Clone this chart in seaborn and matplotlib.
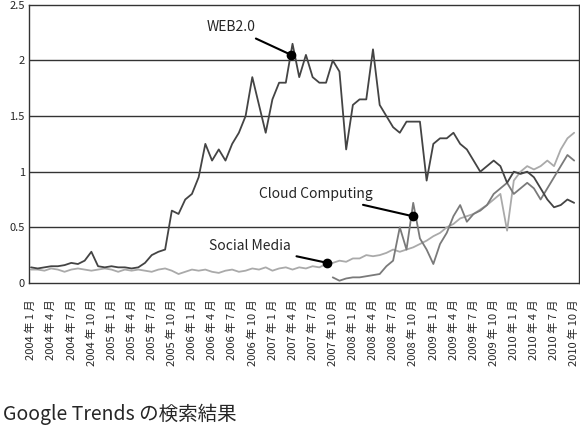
import numpy as np
import pandas as pd
import matplotlib
matplotlib.use('Agg')
import matplotlib.pyplot as plt
import seaborn as sns

sns.set_style('white')
plt.rcParams['font.family'] = ['Noto Sans CJK JP', 'DejaVu Sans']

# 月次の値 (2004年1月 = 0)
months = list(range(82))
web20 = [0.14, 0.13, 0.14, 0.15, 0.15, 0.16, 0.18, 0.17, 0.20, 0.28,
         0.15, 0.14, 0.15, 0.14, 0.14, 0.13, 0.14, 0.18, 0.25, 0.28,
         0.30, 0.65, 0.62, 0.75, 0.80, 0.95, 1.25, 1.10, 1.20, 1.10,
         1.25, 1.35, 1.50, 1.85, 1.60, 1.35, 1.65, 1.80, 1.80, 2.15,
         1.85, 2.05, 1.85, 1.80, 1.80, 2.00, 1.90, 1.20, 1.60, 1.65,
         1.65, 2.10, 1.60, 1.50, 1.40, 1.35, 1.45, 1.45, 1.45, 0.92,
         1.25, 1.30, 1.30, 1.35, 1.25, 1.20, 1.10, 1.00, 1.05, 1.10,
         1.05, 0.90, 1.00, 0.98, 1.00, 0.95, 0.85, 0.75, 0.68, 0.70,
         0.75, 0.72]
social = [0.12, 0.12, 0.11, 0.13, 0.12, 0.10, 0.12, 0.13, 0.12, 0.11,
          0.12, 0.13, 0.12, 0.10, 0.12, 0.11, 0.12, 0.11, 0.10, 0.12,
          0.13, 0.11, 0.08, 0.10, 0.12, 0.11, 0.12, 0.10, 0.09, 0.11,
          0.12, 0.10, 0.11, 0.13, 0.12, 0.14, 0.11, 0.13, 0.14, 0.12,
          0.14, 0.13, 0.15, 0.14, 0.17, 0.18, 0.20, 0.19, 0.22, 0.22,
          0.25, 0.24, 0.25, 0.27, 0.30, 0.28, 0.30, 0.32, 0.35, 0.38,
          0.42, 0.45, 0.50, 0.53, 0.58, 0.60, 0.62, 0.66, 0.70, 0.75,
          0.80, 0.47, 0.92, 1.00, 1.05, 1.02, 1.05, 1.10, 1.05, 1.20,
          1.30, 1.35]
cloud = [np.nan] * 45 + [0.05, 0.02, 0.04, 0.05, 0.05, 0.06, 0.07, 0.08,
                         0.15, 0.20, 0.50, 0.30, 0.72, 0.40, 0.30, 0.17,
                         0.35, 0.45, 0.60, 0.70, 0.55, 0.62, 0.65, 0.70,
                         0.80, 0.85, 0.90, 0.80, 0.85, 0.90, 0.85, 0.75,
                         0.85, 0.95, 1.05, 1.15, 1.10]

quarter_labels = [f"{y} 年 {m} 月" for y in range(2004, 2011) for m in (1, 4, 7, 10)]
quarter_pos = list(range(0, 82, 3))

df = pd.DataFrame({'month': months * 3,
                   'value': web20 + social + cloud,
                   'series': ['WEB2.0'] * 82 + ['Social Media'] * 82 + ['Cloud Computing'] * 82})

fig = plt.figure(figsize=(5.8, 4.4), dpi=100)
ax = fig.add_axes([0.05, 0.357, 0.948, 0.632])
sns.lineplot(data=df, x='month', y='value', hue='series', ax=ax, legend=False,
             palette={'WEB2.0': '#444444', 'Social Media': '#aaaaaa', 'Cloud Computing': '#7a7a7a'},
             hue_order=['Social Media', 'Cloud Computing', 'WEB2.0'], linewidth=1.3)

ax.set_xlim(-0.3, 81.7)
ax.set_ylim(0, 2.5)
ax.set_yticks([0, 0.5, 1, 1.5, 2, 2.5])
ax.set_yticklabels(['0', '0.5', '1', '1.5', '2', '2.5'], fontsize=8)
for v in [0.5, 1, 1.5, 2]:
    ax.axhline(v, color='#333333', lw=1, zorder=0)
ax.set_xticks(quarter_pos)
ax.set_xticklabels(quarter_labels, rotation=90, fontsize=8)
ax.tick_params(axis='x', direction='in', length=5, pad=12)
ax.tick_params(axis='y', length=0, pad=3)
ax.set_xlabel('')
ax.set_ylabel('')
for s in ax.spines.values():
    s.set_color('#333333')
    s.set_linewidth(1)

def note(text, xy, xytext):
    ax.plot(*xy, 'o', color='black', ms=6, zorder=5)
    ax.annotate(text, xy=xy, xytext=xytext, ha='right', va='center', fontsize=10,
                arrowprops=dict(arrowstyle='-', color='black', lw=1.5))

note('WEB2.0', (38.8, 2.05), (33.5, 2.3))
note('Cloud Computing', (56.9, 0.6), (50.9, 0.8))
note('Social Media', (44.2, 0.18), (38.7, 0.33))

fig.text(0.005, 0.035, 'Google Trends の検索結果', fontsize=14, ha='left', va='bottom')
fig.savefig('out.png', dpi=100)
